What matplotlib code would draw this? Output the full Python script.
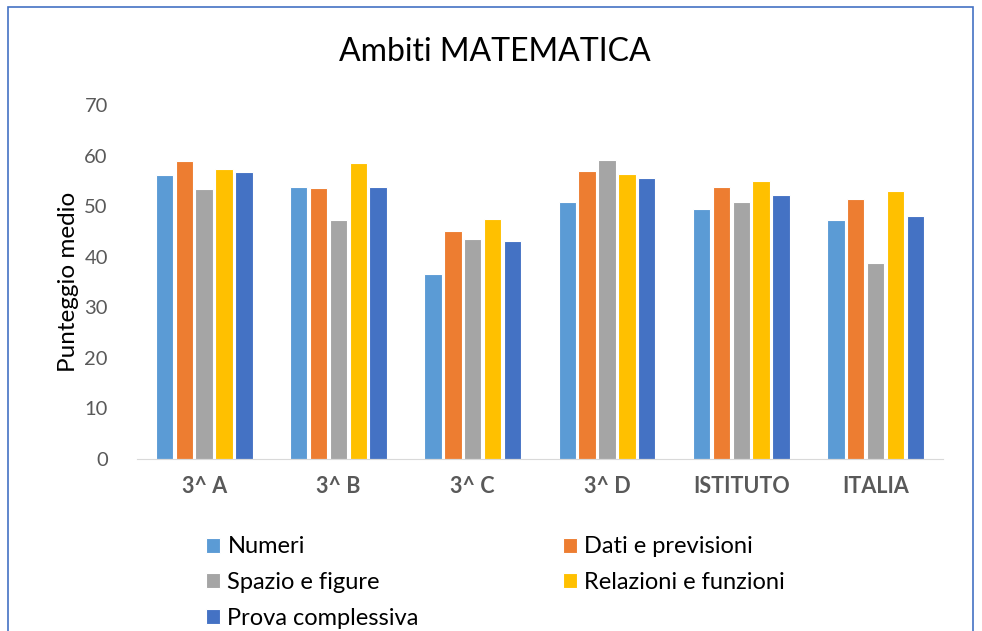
import matplotlib.pyplot as plt
import matplotlib.patches as patches
import numpy as np

categories = ['3^ A', '3^ B', '3^ C', '3^ D', 'ISTITUTO', 'ITALIA']
series_names = ['Numeri', 'Dati e previsioni', 'Spazio e figure',
                'Relazioni e funzioni', 'Prova complessiva']
numeri = [56.2, 53.8, 36.5, 50.8, 49.4, 47.3]
dati = [59.0, 53.6, 45.1, 56.9, 53.7, 51.5]
spazio = [53.4, 47.3, 43.5, 59.1, 50.8, 38.7]
relazioni = [57.3, 58.6, 47.5, 56.4, 55.0, 52.9]
prova = [56.7, 53.7, 43.1, 55.5, 52.3, 48.1]
yticks = [0, 10, 20, 30, 40, 50, 60, 70]

colors = ['#5B9BD5', '#ED7D31', '#A5A5A5', '#FFC000', '#4472C4']
series = [numeri, dati, spazio, relazioni, prova]

plt.rcParams['font.family'] = ['Lato', 'DejaVu Sans']

fig = plt.figure(figsize=(9.82, 6.31), dpi=100)
ax = fig.add_axes([0.1395, 0.2726, 0.8205, 0.561])

x = np.arange(len(categories))
step = 0.148
width = 0.13
bars = []
for i, (vals, c) in enumerate(zip(series, colors)):
    b = ax.bar(x + (i - 2) * step, vals, width, color=c, edgecolor='white',
               linewidth=0.8, label=series_names[i])
    bars.append(b)

ax.set_ylim(0, 70)
ax.set_xlim(-0.5, len(categories) - 0.5)
ax.set_yticks(yticks)
ax.set_xticks(x)
ax.set_xticklabels(categories, fontsize=15.5, fontweight='bold', color='#595959')
ax.tick_params(axis='y', labelsize=14.5, labelcolor='#595959', length=0, pad=21)
ax.tick_params(axis='x', length=0, pad=12)
for s in ['top', 'right', 'left']:
    ax.spines[s].set_visible(False)
ax.spines['bottom'].set_color('#D9D9D9')
ax.set_ylabel('Punteggio medio', fontsize=17.5, color='black', labelpad=4)

fig.text(0.504, 0.918, 'Ambiti MATEMATICA', fontsize=23, ha='center', va='center')

order = [0, 2, 4, 1, 3]
fig.legend([bars[i] for i in order], [series_names[i] for i in order],
           ncol=2, loc='upper left', bbox_to_anchor=(0.21, 0.150),
           frameon=False, fontsize=17, handlelength=0.6, handleheight=0.6,
           handletextpad=0.3, columnspacing=6.1, labelspacing=0.62,
           borderpad=0, borderaxespad=0)

fig.patches.append(patches.Rectangle((0.0085, -0.05), 0.982, 1.039,
                                     transform=fig.transFigure, fill=False,
                                     edgecolor='#4472C4', linewidth=1.2))

fig.savefig('out.png', dpi=100)
